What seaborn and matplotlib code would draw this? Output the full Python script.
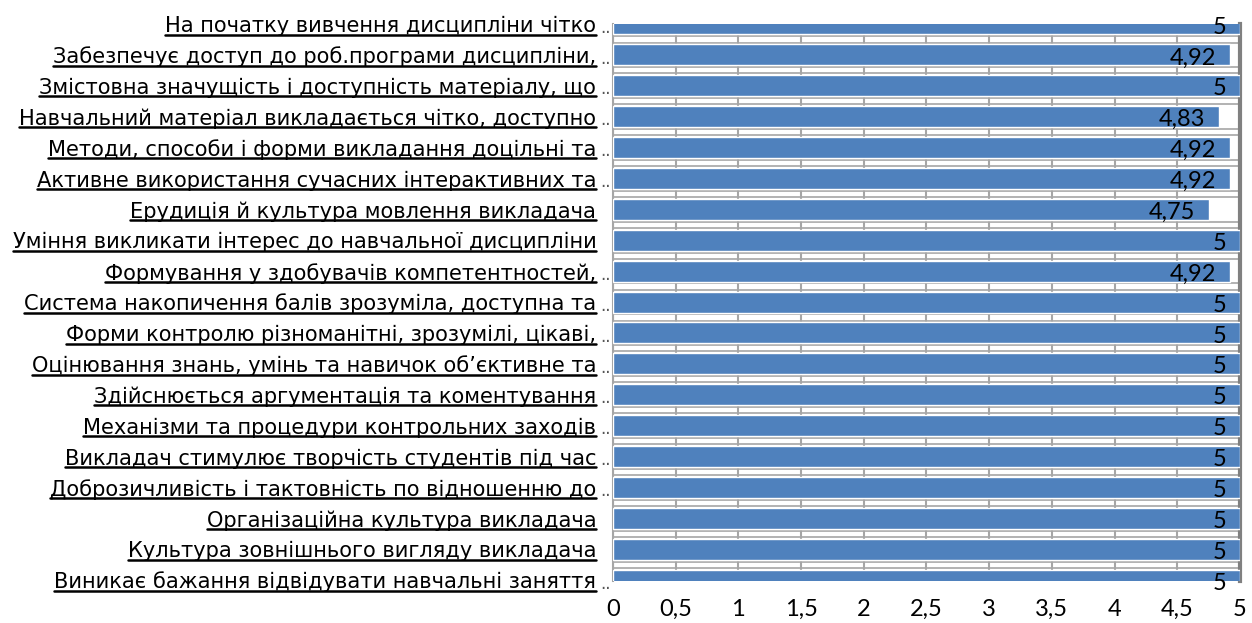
import matplotlib
matplotlib.use("Agg")
import matplotlib.pyplot as plt
import matplotlib.transforms as mtransforms
from matplotlib.lines import Line2D
import seaborn as sns
import pandas as pd

# Chart data
criteria = [
    "На початку вивчення дисципліни чітко",
    "Забезпечує доступ до роб.програми дисципліни,",
    "Змістовна значущість і доступність матеріалу, що",
    "Навчальний матеріал викладається чітко, доступно",
    "Методи, способи і форми викладання доцільні та",
    "Активне використання сучасних інтерактивних та",
    "Ерудиція й культура мовлення викладача",
    "Уміння викликати інтерес до навчальної дисципліни",
    "Формування у здобувачів компетентностей,",
    "Система накопичення балів зрозуміла, доступна та",
    "Форми контролю різноманітні, зрозумілі, цікаві,",
    "Оцінювання знань, умінь та навичок об’єктивне та",
    "Здійснюється аргументація та коментування",
    "Механізми та процедури контрольних заходів",
    "Викладач стимулює творчість студентів під час",
    "Доброзичливість і тактовність по відношенню до",
    "Організаційна культура викладача",
    "Культура зовнішнього вигляду викладача",
    "Виникає бажання відвідувати навчальні заняття",
]
truncated = [True, True, True, True, True, True, False, False, True, True,
             True, True, True, True, True, True, False, False, True]
scores = [5, 4.92, 5, 4.83, 4.92, 4.92, 4.75, 5, 4.92, 5,
          5, 5, 5, 5, 5, 5, 5, 5, 5]
x_ticks = [0, 0.5, 1, 1.5, 2, 2.5, 3, 3.5, 4, 4.5, 5]

df = pd.DataFrame({"criterion": criteria, "score": scores})

sns.set_style("white")
plt.rcParams['font.family'] = ['DejaVu Sans']
plt.rcParams['text.color'] = 'black'
plt.rcParams['xtick.color'] = 'black'
plt.rcParams['ytick.color'] = 'black'

bar_color = "#4F81BD"
grid_color = "#A6A6A6"

fig = plt.figure(figsize=(12.52, 6.23), dpi=100)
ax = fig.add_axes([0.4896, 0.0674, 0.5008, 0.8941])

sns.barplot(data=df, x="score", y="criterion", orient="h", color=bar_color,
            saturation=1, width=0.68, ax=ax, zorder=3)

ax.set_xlim(0, 5)
ax.set_ylim(len(criteria) - 1 + 0.03, 0)
ax.set_xticks(x_ticks)
ax.set_xticklabels([f"{t:g}".replace(".", ",") for t in x_ticks],
                   fontfamily="Lato", fontsize=17)
ax.set_xlabel("")
ax.set_ylabel("")

# vertical gridlines and the double lines of the 3D "wall" between bars
ax.grid(axis="x", color=grid_color, lw=1.5, zorder=1)
ax.grid(axis="y", visible=False)
for i in range(len(criteria) - 1):
    for dy in (-0.1, 0.1):
        ax.axhline(i + 0.5 + dy, color=grid_color, lw=1.2, zorder=1)

for side in ["top", "bottom"]:
    ax.spines[side].set_visible(False)
ax.spines["left"].set_color(grid_color)
ax.spines["left"].set_linewidth(1.5)
ax.spines["right"].set_color("#808080")
ax.spines["right"].set_linewidth(3)

ax.tick_params(axis="y", length=0, pad=12, labelsize=15.1)
ax.tick_params(axis="x", length=0, pad=13)

# value labels
for i, v in enumerate(scores):
    ax.text(v - 0.11, i + 0.1, f"{v:g}".replace(".", ","), ha="right", va="center",
            fontfamily="Lato", fontsize=17, color="black", zorder=5, clip_on=False)

# ellipsis for truncated category names
dots_tr = mtransforms.offset_copy(ax.get_yaxis_transform(), fig=fig, x=-2, y=0, units="dots")
for i, t in enumerate(truncated):
    if t:
        ax.text(0, i + 0.12, "..", transform=dots_tr, ha="right", va="center",
                fontsize=12, color="#555555", clip_on=False)

# underline category names, just under the baseline
fig.canvas.draw()
renderer = fig.canvas.get_renderer()
for lbl in ax.get_yticklabels():
    bb = lbl.get_window_extent(renderer)
    _, _, descent = renderer.get_text_width_height_descent(
        lbl.get_text(), lbl.get_fontproperties(), ismath=False)
    y_line = bb.y0 + descent - 2.5
    fig.add_artist(Line2D([bb.x0, bb.x1], [y_line, y_line], transform=None,
                          color="black", lw=1.8))

fig.savefig("out.png", dpi=100)
